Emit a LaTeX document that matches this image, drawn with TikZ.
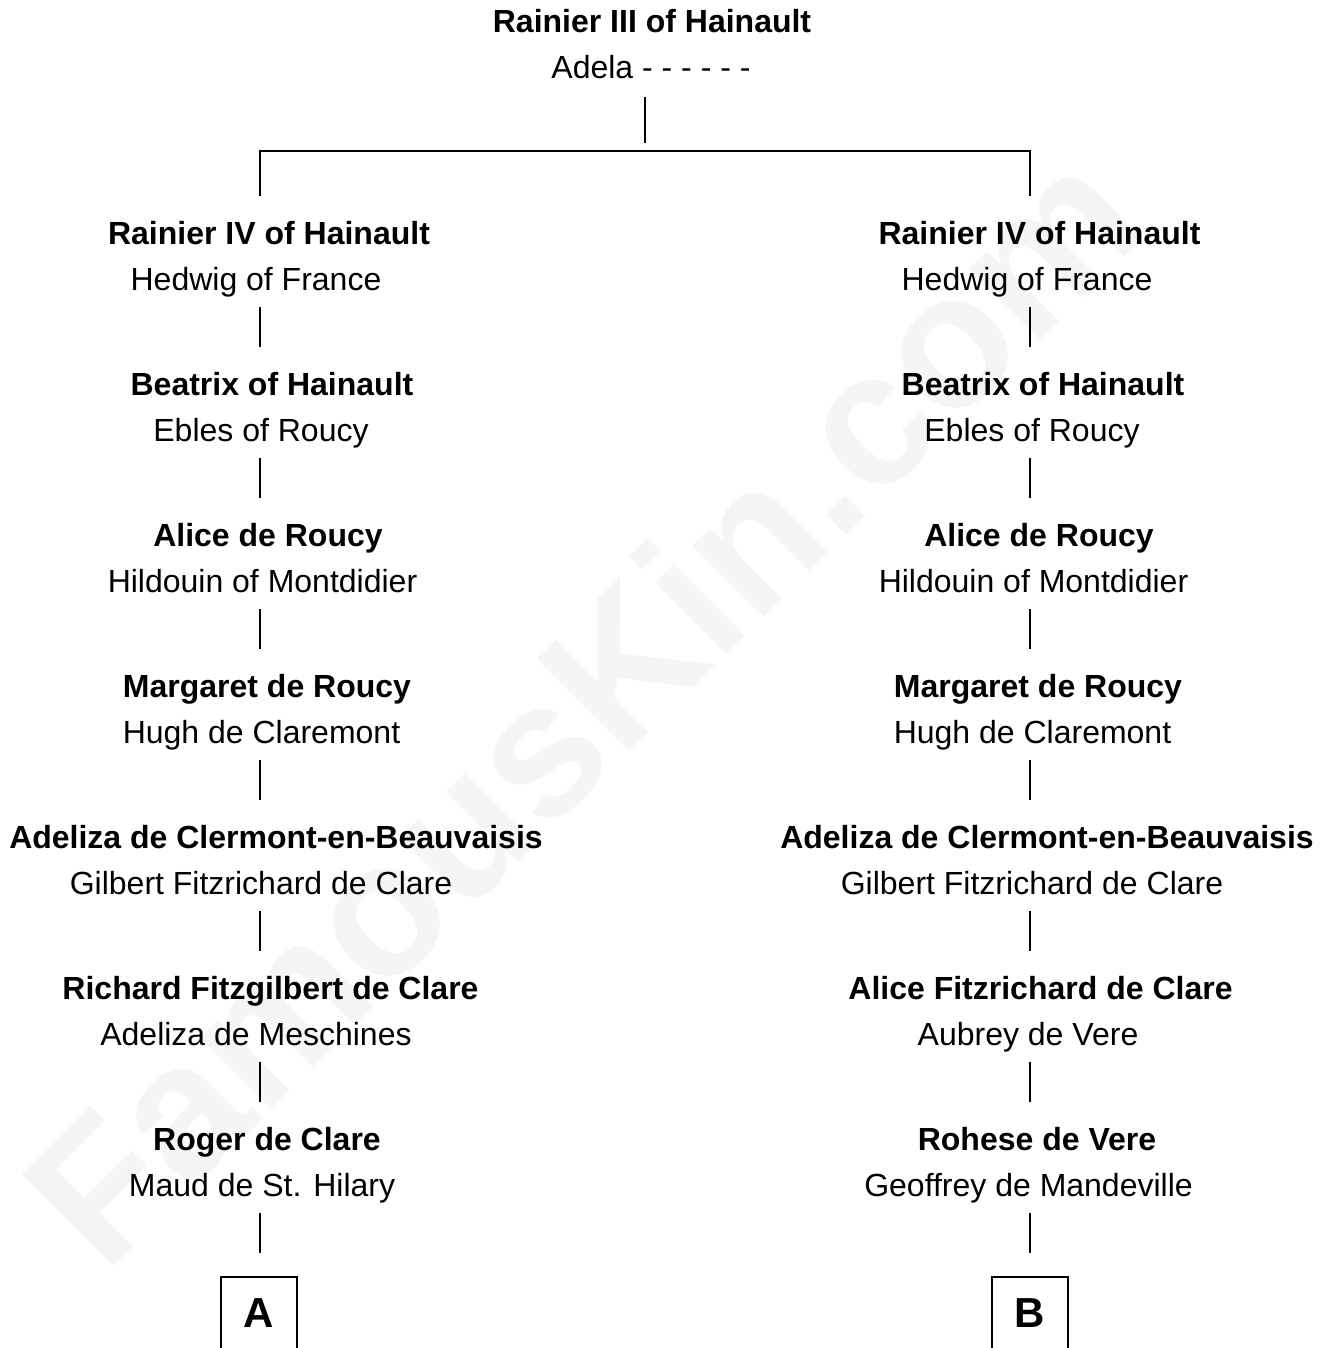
\documentclass[tikz,border=0pt]{standalone}
\usepackage{fontspec}
\setmainfont{Liberation Sans}
\usetikzlibrary{calc}
\begin{document}
\begin{tikzpicture}[x=1pt,y=-1pt,
  nm/.style={font=\fontsize{32}{38}\selectfont\bfseries, anchor=base, inner sep=0pt},
  sp/.style={font=\fontsize{32}{38}\selectfont, anchor=base, inner sep=0pt},
  ln/.style={line width=1.3pt},
  bx/.style={draw, line width=1.3pt, minimum width=76pt, minimum height=72pt, font=\fontsize{42}{48}\selectfont\bfseries, inner sep=0pt},
  wmark/.style={rotate=45, text=black!4, font=\fontsize{190}{190}\selectfont\bfseries, inner sep=0pt}]
\useasboundingbox (0,0) rectangle (1326,1348);
\clip (0,0) rectangle (1326,1348);
\fill[white] (0,0) rectangle (1326,1348);
\node[wmark] (wm) at (580,705) {FamousKin.com};

\coordinate (colL) at (260,0);
\coordinate (colR) at (1030,0);
\coordinate (colM) at (645,0);

% top couple
\node[nm] (top) at (652,33) {Rainier III of Hainault};
\node[sp] (adela) at (651,79) {Adela - - - - - -};
\coordinate (busM) at (645,151);
\coordinate (busL) at (260,151);
\coordinate (busR) at (1030,151);

% left column
\node[nm] (nmL0) at (269,244) {Rainier IV of Hainault};
\node[sp] (spL0) at (256,290) {Hedwig of France};
\node[nm] (nmL1) at (272,395) {Beatrix of Hainault};
\node[sp] (spL1) at (261,441) {Ebles of Roucy};
\node[nm] (nmL2) at (268,546) {Alice de Roucy};
\node[sp] (spL2) at (262.5,592) {Hildouin of Montdidier};
\node[nm] (nmL3) at (267,697) {Margaret de Roucy};
\node[sp] (spL3) at (261.5,743) {Hugh de Claremont};
\node[nm] (nmL4) at (276,848) {Adeliza de Clermont-en-Beauvaisis};
\node[sp] (spL4) at (261,894) {Gilbert Fitzrichard de Clare};
\node[nm] (nmL5) at (270.5,999) {Richard Fitzgilbert de Clare};
\node[sp] (spL5) at (256,1045) {Adeliza de Meschines};
\node[nm] (nmL6) at (267,1150) {Roger de Clare};
\node[sp] (spL6) at (262,1196) {Maud de St. Hilary};
\node[bx] (boxA) at (259,1313) {A};

% right column
\node[nm] (nmR0) at (1039.5,244) {Rainier IV of Hainault};
\node[sp] (spR0) at (1027,290) {Hedwig of France};
\node[nm] (nmR1) at (1043,395) {Beatrix of Hainault};
\node[sp] (spR1) at (1032,441) {Ebles of Roucy};
\node[nm] (nmR2) at (1039,546) {Alice de Roucy};
\node[sp] (spR2) at (1033.5,592) {Hildouin of Montdidier};
\node[nm] (nmR3) at (1038,697) {Margaret de Roucy};
\node[sp] (spR3) at (1032.5,743) {Hugh de Claremont};
\node[nm] (nmR4) at (1047,848) {Adeliza de Clermont-en-Beauvaisis};
\node[sp] (spR4) at (1032,894) {Gilbert Fitzrichard de Clare};
\node[nm] (nmR5) at (1040.5,999) {Alice Fitzrichard de Clare};
\node[sp] (spR5) at (1028,1045) {Aubrey de Vere};
\node[nm] (nmR6) at (1037,1150) {Rohese de Vere};
\node[sp] (spR6) at (1028.5,1196) {Geoffrey de Mandeville};
\node[bx] (boxB) at (1030,1313) {B};

% connectors
\draw[ln] ($(colM |- adela.base)+(0,18)$) -- ($(busM)+(0,-8)$);
\draw[ln] ($(colL |- nmL0.base)+(0,-48)$) -- (busL) -- (busR) -- ($(colR |- nmR0.base)+(0,-48)$);

\foreach \i/\j in {0/1,1/2,2/3,3/4,4/5,5/6}{
  \draw[ln] ($(colL |- spL\i.base)+(0,17)$) -- ($(colL |- nmL\j.base)+(0,-48)$);
  \draw[ln] ($(colR |- spR\i.base)+(0,17)$) -- ($(colR |- nmR\j.base)+(0,-48)$);
}
\draw[ln] ($(colL |- spL6.base)+(0,17)$) -- ($(colL |- boxA.north)+(0,-23)$);
\draw[ln] ($(colR |- spR6.base)+(0,17)$) -- ($(colR |- boxB.north)+(0,-23)$);
\end{tikzpicture}
\end{document}
